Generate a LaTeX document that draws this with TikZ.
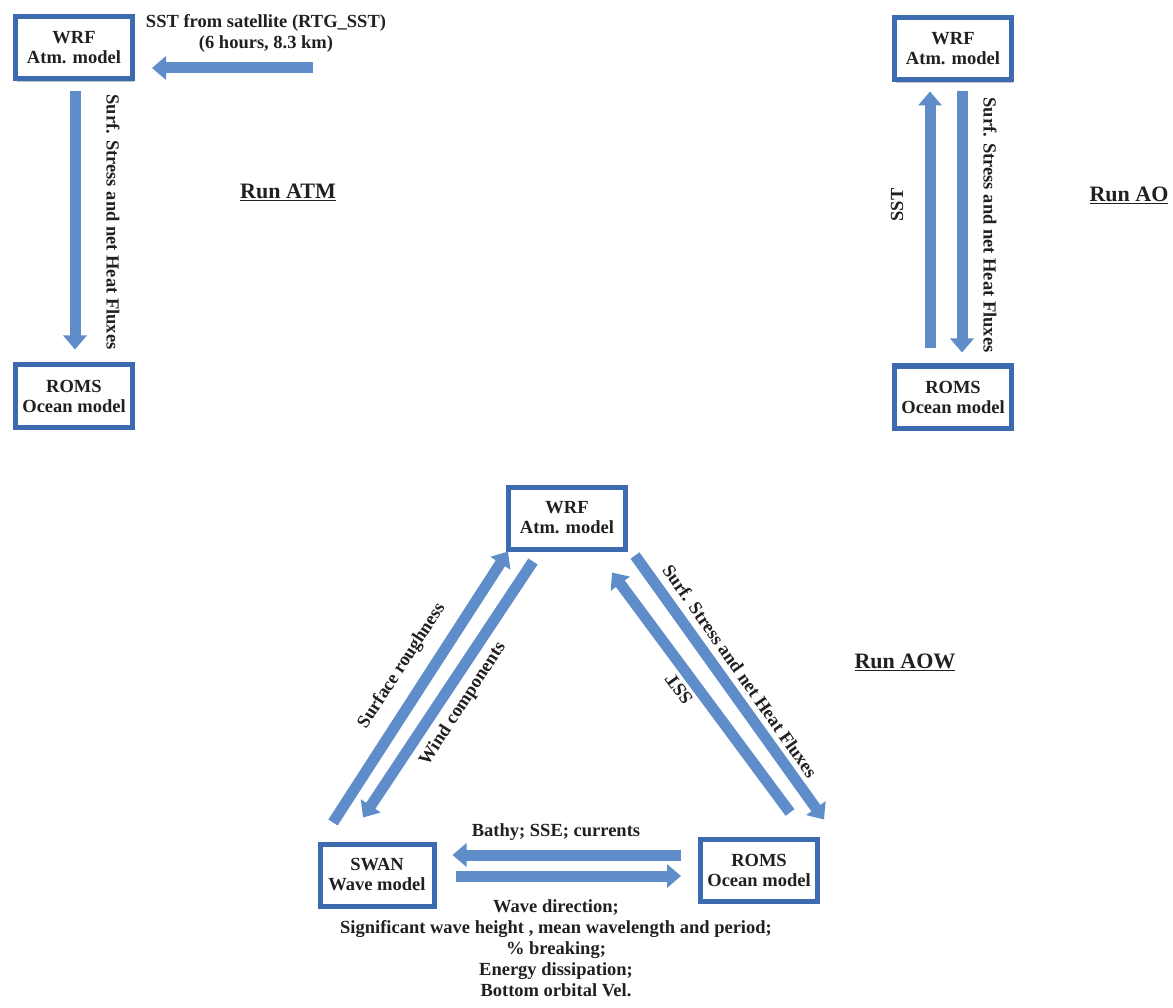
\documentclass[tikz,border=0pt]{standalone}
\usepackage{fontspec}
\setmainfont{Liberation Serif}
\usetikzlibrary{arrows.meta,shadows,calc}
\definecolor{boxc}{HTML}{3D6BAF}
\definecolor{arrc}{HTML}{5E8DCA}
\definecolor{txtc}{HTML}{231F20}
\begin{document}
\begin{tikzpicture}[x=1pt,y=-1pt,
  every node/.style={text=txtc, font=\bfseries\fontsize{18.5}{21}\selectfont},
  model/.style={draw=boxc, line width=5pt, fill=white, minimum width=117pt,
    minimum height=62pt, align=center, inner sep=0pt,
    font=\bfseries\fontsize{18.5}{20}\selectfont,
    drop shadow={shadow xshift=1.5pt, shadow yshift=-3pt, opacity=0.35, fill=black!70}},
  fatarrow/.style={draw=arrc, line width=11pt, -{Triangle[width=23pt,length=14pt]}},
  lbl/.style={inner sep=0pt},
  runlbl/.style={inner sep=0pt, font=\bfseries\fontsize{22}{24}\selectfont}]
\useasboundingbox (0,0) rectangle (1173,1008);

% ---------- Run ATM ----------
\node[model] (atm1) at (74,48) {WRF\\Atm. model};
\node[model] (oc1) at (74,396) {ROMS\\Ocean model};
\coordinate (satsrc) at (313,68);
\draw[fatarrow] (satsrc) -- ($(atm1.east |- satsrc)+(17,0)$);
\node[lbl, align=center] (satlbl) at (266,33) {SST from satellite (RTG\_SST)\\(6 hours, 8.3 km)};
\draw[fatarrow] ($(atm1.south)+(1,10)$) -- ($(oc1.north)+(1,-13)$);
\node[lbl, rotate=-90] (fl1) at (113,222) {Surf. Stress and net Heat Fluxes};
\node[runlbl] (run1) at (288,192) {\underline{Run ATM}};

% ---------- Run AO ----------
\node[model] (atm2) at (953,49) {WRF\\Atm. model};
\node[model] (oc2) at (953,397) {ROMS\\Ocean model};
\draw[fatarrow] ($(oc2.north)+(-23,-15)$) -- ($(atm2.south)+(-23,9)$);
\draw[fatarrow] ($(atm2.south)+(9,9)$) -- ($(oc2.north)+(9,-11)$);
\node[lbl, rotate=90] (sst2) at (897,205) {SST};
\node[lbl, rotate=-90] (fl2) at (990,225) {Surf. Stress and net Heat Fluxes};
\node[runlbl] (run2) at (1129,195) {\underline{Run AO}};

% ---------- Run AOW ----------
\node[model] (atm3) at (567,518) {WRF\\Atm. model};
\node[model, minimum width=114pt] (swan) at (377,875) {SWAN\\Wave model};
\node[model] (oc3) at (759,870) {ROMS\\Ocean model};

\draw[fatarrow] ($(swan.north)+(-44,-19)$) -- ($(atm3.south west)+(2,0)$);
\draw[fatarrow] ($(atm3.south)+(-34,10)$) -- ($(swan.north)+(-14,-24)$);
\draw[fatarrow] ($(oc3.north)+(31,-24)$) -- ($(atm3.south)+(45,21)$);
\draw[fatarrow] ($(atm3.south east)+(7,4)$) -- ($(oc3.north east)+(4,-17)$);

\node[lbl, rotate=57] (rough) at (402,666) {Surface roughness};
\node[lbl, rotate=57] (wind) at (463,704) {Wind components};
\node[lbl, rotate=126] (sst3) at (679,689) {SST};
\node[lbl, rotate=-55] (fl3) at (740,671) {Surf. Stress and net Heat Fluxes};

\draw[fatarrow] ($(oc3.west)+(-17,-15)$) -- ($(swan.east)+(16,-20)$);
\draw[fatarrow] ($(swan.east)+(19,1)$) -- ($(oc3.west)+(-17,6)$);
\node[lbl] (bathy) at (556,832) {Bathy; SSE; currents};
\node[lbl, align=center, anchor=north] (waves) at (556,899) {Wave direction;\\
  Significant wave height , mean wavelength and period;\\
  \% breaking;\\ Energy dissipation;\\ Bottom orbital Vel.};
\node[runlbl] (run3) at (905,662) {\underline{Run AOW}};
\end{tikzpicture}
\end{document}
